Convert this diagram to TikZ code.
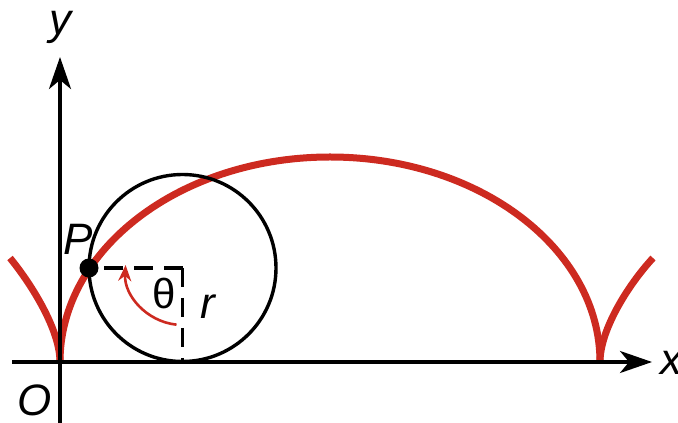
\documentclass[tikz,border=0pt]{standalone}
\usepackage{fontspec}
\setmainfont{Liberation Sans}
\usetikzlibrary{arrows.meta,calc}
\definecolor{cycred}{RGB}{205,42,32}
\begin{document}
\begin{tikzpicture}[x=1pt,y=1pt,
  axis/.style={line width=3.4pt,-{Stealth[length=32pt,width=22pt,inset=9pt]}},
  curve/.style={line width=7pt,cycred},
  wheel/.style={line width=3.4pt},
  dashline/.style={line width=3.4pt,dash pattern=on 19pt off 11pt},
  lbl/.style={font=\fontsize{44}{48}\selectfont\itshape,inner sep=0pt},
  glbl/.style={font=\fontsize{42}{46}\selectfont,inner sep=0pt}]
\useasboundingbox (0,0) rectangle (678,423);
\coordinate (O) at (60,61);
\coordinate (C) at (182.5,155);
\coordinate (B) at (182.5,61);
\coordinate (xs) at (12,61);
\coordinate (xe) at (652,61);
\coordinate (ys) at (60,0);
\coordinate (ye) at (60,366);
\coordinate (L) at (10,165);
\coordinate (R) at (653,165);
\coordinate (K) at (600,61);
% red cycloid
\draw[curve] (O) arc[start angle=180,end angle=0,x radius=270,y radius=205];
\draw[curve] (O) .. controls (60,93) and (32,138) .. (L);
\draw[curve] (K) .. controls (600,93) and (628,138) .. (R);
% axes
\draw[axis] (xs) -- (xe);
\draw[axis] (ys) -- (ye);
% wheel
\draw[wheel] (C) circle[radius=93.5];
\node[circle,fill=black,minimum size=19pt,inner sep=0pt] (P) at (89,155) {};
\draw[dashline] (C) -- (P.center);
\draw[dashline] (C) -- (B);
% theta arc
\draw[cycred,line width=2.6pt,-{Stealth[length=16pt,width=13pt]}] ($(C)+(264:57)$) arc[start angle=264,end angle=177,radius=57];
% labels
\node[lbl] (ly) at (60,396) {y};
\node[lbl] (lO) at (35,23) {O};
\node[lbl] (lP) at (78,184) {P};
\node[glbl] (lt) at (164,129) {θ};
\node[lbl] (lr) at (208,116) {r};
\node[lbl] (lx) at (671,60) {x};
\end{tikzpicture}
\end{document}
